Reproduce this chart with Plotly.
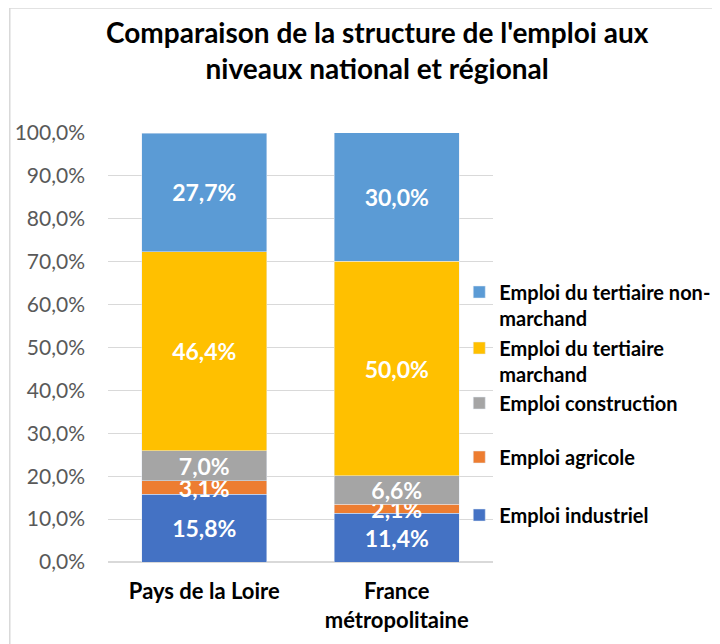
import plotly.graph_objects as go

# chart values (shares of employment)
zones = ["Pays de la Loire", "France<br>métropolitaine"]
industriel = [0.158, 0.114]
agricole = [0.031, 0.021]
construction = [0.070, 0.066]
tertiaire_marchand = [0.464, 0.500]
tertiaire_non_marchand = [0.277, 0.300]

series = [
    ("Emploi industriel", industriel, "#4472C4", "legend5"),
    ("Emploi agricole", agricole, "#ED7D31", "legend4"),
    ("Emploi construction", construction, "#A5A5A5", "legend3"),
    ("Emploi du tertiaire<br>marchand", tertiaire_marchand, "#FFC000", "legend2"),
    ("Emploi du tertiaire non-<br>marchand", tertiaire_non_marchand, "#5B9BD5", "legend"),
]

FONT = "Lato"
OFF = 8  # page body margin
W, H = 720, 644
L, T = 108 - OFF, 133 - OFF
R = W - (496 - OFF)
B = H - (562 - OFF)
ph = H - T - B
pw = W - L - R

def py(y):  # screen row -> paper y
    return (H - B - (y - OFF)) / ph

def px(x):  # screen col -> paper x
    return ((x - OFF) - L) / pw

fig = go.Figure()
for name, vals, col, lg in series:
    fig.add_trace(go.Bar(
        x=zones, y=vals, name=name, marker_color=col, width=0.65,
        texttemplate="%{y:.1%}", textposition="inside", insidetextanchor="middle",
        textangle=0, constraintext="none",
        textfont=dict(family=FONT, size=23, color="white", weight="bold"),
        legend=lg, hoverinfo="skip",
    ))

leg_common = dict(font=dict(family=FONT, size=20, color="black", weight="bold"),
                  x=px(462), xanchor="left", valign="top", bgcolor="rgba(0,0,0,0)")
legend_centers = {"legend": 305, "legend2": 361, "legend3": 403, "legend4": 457, "legend5": 515}

layout_legends = {k: dict(leg_common, y=py(v), yanchor="middle") for k, v in legend_centers.items()}

fig.update_layout(
    width=W, height=H,
    margin=dict(l=L, r=R, t=T, b=B),
    barmode="stack",
    separators=", ",
    paper_bgcolor="white", plot_bgcolor="white",
    xaxis=dict(tickfont=dict(family=FONT, size=22, color="black", weight="bold"),
               showline=False, ticks="", range=[-0.5, 1.5], ticklabelstandoff=14,
               automargin=False),
    yaxis=dict(range=[0, 1], tickformat=".1%", dtick=0.1,
               tickfont=dict(family=FONT, size=21, color="#595959"),
               gridcolor="#D9D9D9", gridwidth=1, zeroline=True, zerolinecolor="#D9D9D9",
               ticks="", ticklabelstandoff=22, automargin=False),
    showlegend=True,
    **layout_legends,
)

fig.add_annotation(
    text="Comparaison de la structure de l'emploi aux<br>niveaux national et régional",
    xref="paper", yref="paper", x=px(380), y=py(49.5),
    xanchor="center", yanchor="middle", showarrow=False,
    font=dict(family=FONT, size=28, color="black", weight="bold"),
)

# chart border (top and left edges visible in the frame)
fig.add_shape(type="rect", xref="paper", yref="paper",
              x0=px(9), x1=px(760), y0=py(8), y1=py(700),
              line=dict(color="#D9D9D9", width=1.5), layer="below")

fig.write_html("out.html")
